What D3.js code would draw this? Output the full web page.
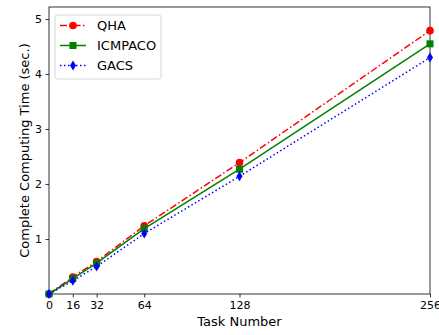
<!DOCTYPE html>
<html>
<head>
<meta charset="utf-8">
<script src="https://cdn.jsdelivr.net/npm/d3@7"></script>
<style>
  body { margin: 0; background: #fff; }
  svg text { font-family: "DejaVu Sans", sans-serif; }
</style>
</head>
<body>
<div id="chart"></div>
<script>
var taskNumbers = [0, 16, 32, 64, 128, 256];
var qhaTimes = [0.0, 0.31, 0.59, 1.24, 2.39, 4.79];
var icmpacoTimes = [0.0, 0.28, 0.56, 1.19, 2.27, 4.55];
var gacsTimes = [0.0, 0.24, 0.50, 1.10, 2.14, 4.30];
var xTickValues = [0, 16, 32, 64, 128, 256];
var yTickValues = [1, 2, 3, 4, 5];

var svgWidth = 439, svgHeight = 335;
var margin = {top: 7, right: 9, bottom: 41, left: 49};
var width = svgWidth - margin.left - margin.right;
var height = svgHeight - margin.top - margin.bottom;

var svg = d3.select("#chart").append("svg")
  .attr("width", svgWidth)
  .attr("height", svgHeight);

var chartGroup = svg.append("g")
  .attr("transform", `translate(${margin.left}, ${margin.top})`);

var x = d3.scaleLinear().domain([0, 256]).range([0, width]);
var y = d3.scaleLinear().domain([0, 5.22]).range([height, 0]);

// axes
var xAxis = chartGroup.append("g")
  .attr("transform", `translate(0, ${height})`)
  .call(d3.axisBottom(x).tickValues(xTickValues).tickFormat(d3.format("d"))
    .tickSizeOuter(0).tickSize(3.5).tickPadding(3.5));
var yAxis = chartGroup.append("g")
  .call(d3.axisLeft(y).tickValues(yTickValues).tickFormat(d3.format("d"))
    .tickSizeOuter(0).tickSize(3.5).tickPadding(3.5));

[xAxis, yAxis].forEach(function(a) {
  a.select(".domain").remove();
  a.selectAll("line").attr("stroke", "#000").attr("stroke-width", 0.8);
  a.selectAll("text").attr("font-size", 11).attr("fill", "#000")
    .style("font-family", "DejaVu Sans, sans-serif");
});

// frame
chartGroup.append("rect")
  .attr("x", 0).attr("y", 0)
  .attr("width", width).attr("height", height)
  .attr("fill", "none").attr("stroke", "#000").attr("stroke-width", 0.8);

var series = [
  {name: "QHA", values: qhaTimes, color: "red", dash: "7,2.5,1.5,2.5", marker: "circle"},
  {name: "ICMPACO", values: icmpacoTimes, color: "green", dash: null, marker: "square"},
  {name: "GACS", values: gacsTimes, color: "blue", dash: "1.5,2.5", marker: "diamond"}
];

function drawMarker(g, type, cx, cy, color) {
  if (type === "circle") {
    g.append("circle").attr("cx", cx).attr("cy", cy).attr("r", 3.8).attr("fill", color);
  } else if (type === "square") {
    g.append("rect").attr("x", cx - 3.5).attr("y", cy - 3.5).attr("width", 7).attr("height", 7).attr("fill", color);
  } else {
    g.append("path").attr("d", `M${cx},${cy - 5} L${cx + 3},${cy} L${cx},${cy + 5} L${cx - 3},${cy} Z`).attr("fill", color);
  }
}

var line = d3.line()
  .x(function(d, i) { return x(taskNumbers[i]); })
  .y(function(d) { return y(d); });

series.forEach(function(s) {
  chartGroup.append("path")
    .datum(s.values)
    .attr("d", line)
    .attr("fill", "none")
    .attr("stroke", s.color)
    .attr("stroke-width", 1.5)
    .attr("stroke-dasharray", s.dash);
  var mg = chartGroup.append("g");
  s.values.forEach(function(v, i) {
    drawMarker(mg, s.marker, x(taskNumbers[i]), y(v), s.color);
  });
});

// legend
var legend = chartGroup.append("g").attr("transform", "translate(6, 8)");
legend.append("rect")
  .attr("x", 0).attr("y", 0).attr("width", 106).attr("height", 64).attr("rx", 2)
  .attr("fill", "#fff").attr("fill-opacity", 0.8)
  .attr("stroke", "#ccc").attr("stroke-width", 0.8);
series.forEach(function(s, i) {
  var ly = 10.5 + i * 20;
  legend.append("line")
    .attr("x1", 5).attr("x2", 31).attr("y1", ly).attr("y2", ly)
    .attr("stroke", s.color).attr("stroke-width", 1.5)
    .attr("stroke-dasharray", s.dash);
  drawMarker(legend, s.marker, 18, ly, s.color);
  legend.append("text")
    .attr("x", 42).attr("y", ly).attr("dy", "0.36em")
    .attr("font-size", 13).text(s.name);
});

// axis labels
chartGroup.append("text")
  .attr("x", width / 2).attr("y", height + 32)
  .attr("text-anchor", "middle").attr("font-size", 13)
  .text("Task Number");

chartGroup.append("text")
  .attr("transform", "rotate(-90)")
  .attr("x", -(height / 2)).attr("y", -20)
  .attr("text-anchor", "middle").attr("font-size", 13)
  .text("Complete Computing Time (sec.)");
</script>
</body>
</html>
